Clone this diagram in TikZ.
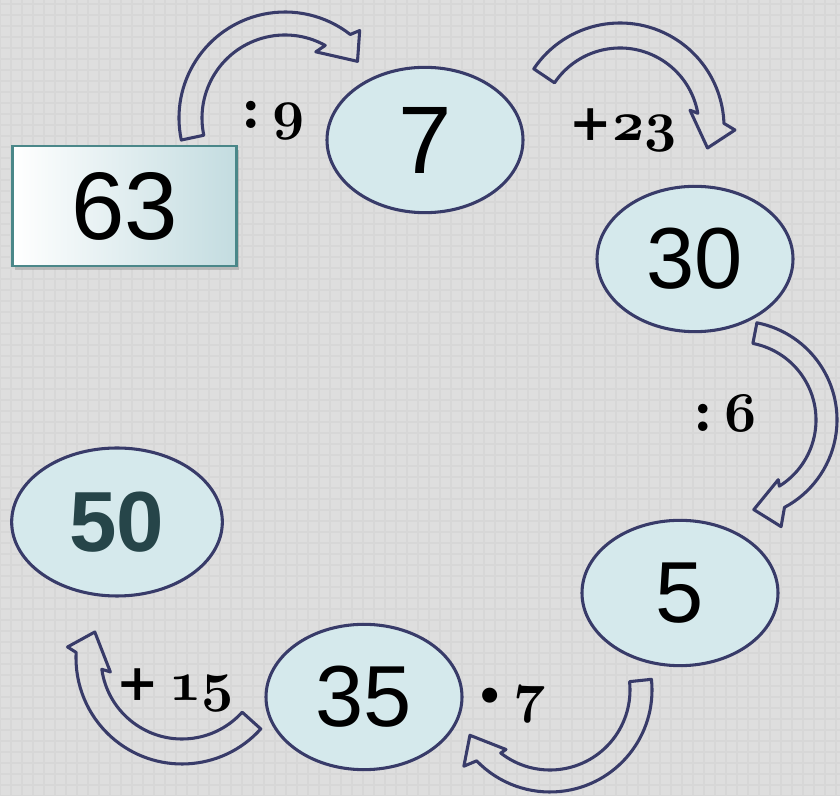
\documentclass[tikz,border=0pt]{standalone}
\usepackage{fontspec}
\newfontfamily\arialf{Liberation Sans}
\newfontfamily\dvserif{DejaVu Serif}
\usetikzlibrary{shapes.geometric,shadows}
\definecolor{bgc}{HTML}{DEDEDE}
\definecolor{gridc}{HTML}{D7D7D7}
\definecolor{ellc}{HTML}{D5E9EC}
\definecolor{navy}{HTML}{383B69}
\definecolor{tealb}{HTML}{4A8789}
\definecolor{rectr}{HTML}{C3DCE0}
\definecolor{fifty}{HTML}{264549}
\font\osfont=cmmib10 at 42pt
\font\bxcolon=cmbx10 at 46pt
\newcommand\osn[1]{{\osfont #1}}
\newcommand\opcolon{{\bxcolon :}}
\newcommand\opplus{{\dvserif\bfseries\fontsize{38}{38}\selectfont +}}
\newcommand\opdot{{\dvserif\bfseries\fontsize{32}{32}\selectfont •}}
\begin{document}
\begin{tikzpicture}[x=0.75pt,y=0.75pt,
  numell/.style={ellipse, draw=navy, line width=2.3pt, fill=ellc, inner sep=0pt,
    minimum width=147pt, minimum height=109pt, font=\arialf\fontsize{65}{65}\selectfont},
  oplabel/.style={inner sep=0pt},
  bendline/.style={draw=navy, line width=2.3pt, line join=round}]
\useasboundingbox (0,0) rectangle (840,796);
\fill[bgc] (0,0) rectangle (840,796);
\draw[gridc, line width=1.5pt, step=11] (0,0) grid (840,796);

% curved block arrows
\begin{scope}[shift={(285,678)}]
\draw[bendline] (192:106) arc[start angle=192, end angle=52, radius=106]
  -- (49.5:115) -- (38:92) -- (65:73) -- (61:83)
  arc[start angle=61, end angle=192, radius=83] -- cycle;
\end{scope}
\begin{scope}[shift={(620,669)}]
\draw[bendline] (146:104) arc[start angle=146, end angle=2, radius=104]
  -- (-1.5:115) -- (-13.5:90) -- (13.5:72) -- (10:79)
  arc[start angle=10, end angle=146, radius=79] -- cycle;
\end{scope}
\begin{scope}[shift={(738,376)}]
\draw[bendline] (79:99) arc[start angle=79, end angle=-62, radius=99]
  -- (-68:115) -- (-80:91) -- (-56:72) -- (-58:78)
  arc[start angle=-58, end angle=79, radius=78] -- cycle;
\end{scope}
\begin{scope}[shift={(550,106)}]
\draw[bendline] (6:102) arc[start angle=6, end angle=-136, radius=102]
  -- (-138.5:115) -- (-150.5:92) -- (-126.5:74) -- (-128:80)
  arc[start angle=-128, end angle=6, radius=80] -- cycle;
\end{scope}
\begin{scope}[shift={(182,138)}]
\draw[bendline] (-42:106) arc[start angle=-42, end angle=-183, radius=106]
  -- (-185.5:115) -- (-196.6:91) -- (-169:73) -- (-172:81)
  arc[start angle=-172, end angle=-42, radius=81] -- cycle;
\end{scope}

% number nodes
\node[rectangle, draw=tealb, line width=1.8pt, left color=white, right color=rectr,
  minimum width=168pt, minimum height=90pt,
  drop shadow={shadow xshift=2pt, shadow yshift=-3pt, fill=black!40, opacity=0.5},
  font=\arialf\fontsize{72}{72}\selectfont] (n63) at (124.5,590) {63};
\node[numell, font=\arialf\fontsize{72}{72}\selectfont] (n7) at (425,656) {7};
\node[numell] (n30) at (695,537) {30};
\node[numell] (n5) at (680,203) {5};
\node[numell] (n35) at (364,99) {35};
\node[numell, minimum width=158pt, minimum height=111pt,
  font=\arialf\bfseries\fontsize{64}{64}\selectfont, text=fifty] (n50) at (117,274) {50};

% operation labels
\node[oplabel] (l1) at (273,676) {\opcolon\hspace{8pt}\osn{9}};
\node[oplabel] (l2) at (623,666) {\opplus\osn{23}};
\node[oplabel] (l3) at (725,383) {\opcolon\hspace{8pt}\osn{6}};
\node[oplabel] (l4) at (511,91) {\opdot\hspace{7pt}\osn{7}};
\node[oplabel] (l5) at (175,106) {\opplus\hspace{8pt}\osn{15}};
\end{tikzpicture}
\end{document}
